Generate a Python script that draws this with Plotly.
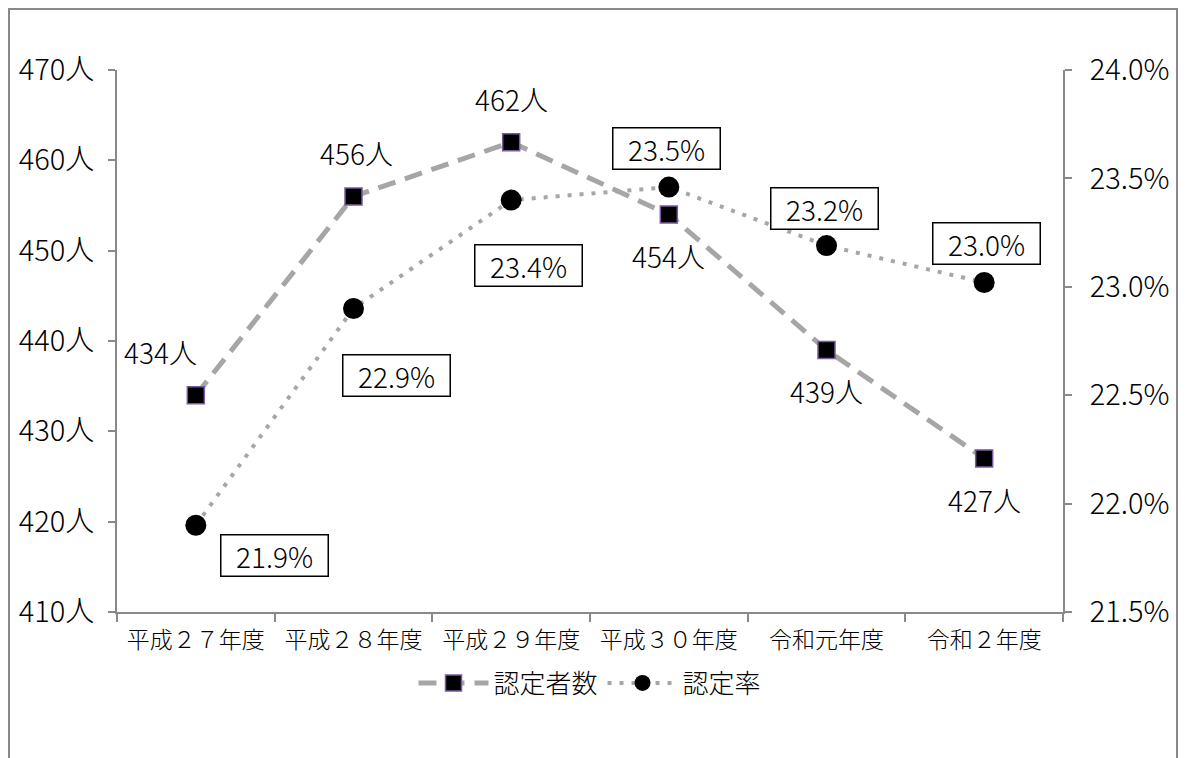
import plotly.graph_objects as go

categories = ["平成２７年度", "平成２８年度", "平成２９年度", "平成３０年度", "令和元年度", "令和２年度"]
ninteisha = [434, 456, 462, 454, 439, 427]
ninteiritsu = [21.9, 22.9, 23.4, 23.46, 23.19, 23.02]
left_ticks = [410, 420, 430, 440, 450, 460, 470]
right_ticks = [21.5, 22.0, 22.5, 23.0, 23.5, 24.0]

FONT = "Noto Sans CJK JP"
WT = 300

# label offsets (styling)
cnt_offsets = [(-35, 43), (3, 43), (0, 43), (0, -41), (0, -41), (0, -42)]
rate_offsets = [(79, -30), (43, -67), (17, -65), (-2, 39), (-2, 37), (2, 39)]

W, H = 1178, 750
L, T, PW, PH = 109, 62, 946, 542

fig = go.Figure()
fig.add_trace(go.Scatter(
    x=categories, y=ninteisha, name="認定者数", mode="lines+markers",
    line=dict(color="#a6a6a6", width=5, dash="18px,10px"),
    marker=dict(symbol="square", size=17, color="black",
                line=dict(color="#7a5a9e", width=1.5)),
    yaxis="y",
))
fig.add_trace(go.Scatter(
    x=categories, y=ninteiritsu, name="認定率", mode="lines+markers",
    line=dict(color="#a6a6a6", width=4, dash="4px,8px"),
    marker=dict(symbol="circle", size=21, color="black"),
    yaxis="y2",
))

annotations = []
for c, v, (dx, dy) in zip(categories, ninteisha, cnt_offsets):
    annotations.append(dict(x=c, y=v, xref="x", yref="y", text=f"{v}人",
                            showarrow=False, xshift=dx, yshift=dy,
                            font=dict(family=FONT, size=28, color="black", weight=WT)))
for c, v, (dx, dy) in zip(categories, ninteiritsu, rate_offsets):
    annotations.append(dict(x=c, y=v, xref="x", yref="y2", text=f"{v:.1f}%",
                            showarrow=False, xshift=dx, yshift=dy,
                            width=100, height=34,
                            bordercolor="black", borderwidth=1.5, borderpad=3,
                            bgcolor="white",
                            font=dict(family=FONT, size=28, color="black", weight=WT)))

fig.update_layout(
    width=W, height=H,
    margin=dict(l=L, r=W - L - PW, t=T, b=H - T - PH, autoexpand=False),
    paper_bgcolor="white", plot_bgcolor="white",
    font=dict(family=FONT, size=22, color="black", weight=WT),
    showlegend=True,
    legend=dict(orientation="h", x=0.5, xanchor="center", y=-0.131, yanchor="middle",
                font=dict(family=FONT, size=26, color="black", weight=WT),
                itemwidth=70),
    xaxis=dict(
        type="category", range=[-0.5, len(categories) - 0.5],
        showline=True, linecolor="#898989", linewidth=2,
        ticks="outside", tickson="boundaries", ticklen=8, tickcolor="#898989",
        tickwidth=2, showgrid=False, zeroline=False, ticklabelstandoff=6,
        tickfont=dict(family=FONT, size=23, color="black", weight=WT),
    ),
    yaxis=dict(
        range=[410, 470], tickvals=left_ticks,
        ticktext=[f"{t}人" for t in left_ticks],
        showline=True, linecolor="#898989", linewidth=2,
        ticks="outside", ticklen=7, tickcolor="#898989", tickwidth=2,
        showgrid=False, zeroline=False, ticklabelstandoff=8,
        tickfont=dict(family=FONT, size=29, color="black", weight=WT),
    ),
    yaxis2=dict(
        range=[21.5, 24.0], tickvals=right_ticks,
        ticktext=[f"{t:.1f}%" for t in right_ticks],
        overlaying="y", side="right",
        showline=True, linecolor="#898989", linewidth=2,
        ticks="outside", ticklen=7, tickcolor="#898989", tickwidth=2,
        showgrid=False, zeroline=False, ticklabelstandoff=12,
        tickfont=dict(family=FONT, size=29, color="black", weight=WT),
    ),
    annotations=annotations,
    shapes=[dict(type="rect", xref="paper", yref="paper",
                 x0=(1 - L) / PW, x1=(1169 - L) / PW,
                 y0=-0.5, y1=(T + PH - 1) / PH,
                 line=dict(color="#898989", width=2), fillcolor="rgba(0,0,0,0)",
                 layer="below")],
)

fig.write_html("out.html")
